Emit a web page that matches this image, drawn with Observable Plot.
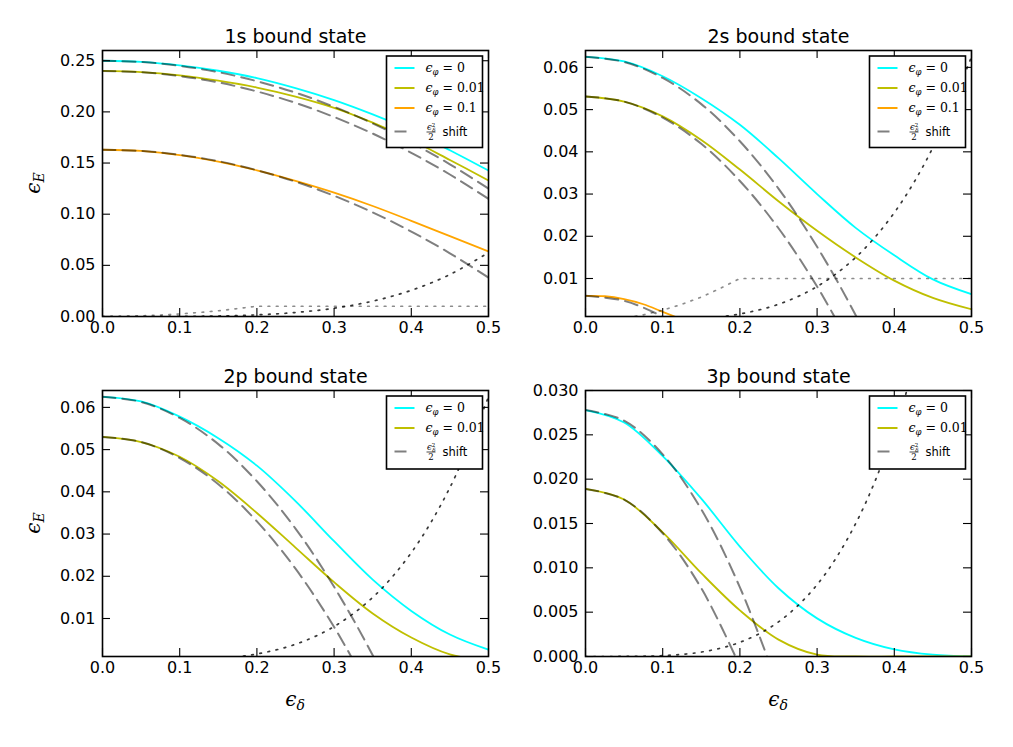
<!DOCTYPE html>
<html><head><meta charset="utf-8">
<script src="https://cdn.jsdelivr.net/npm/d3@7"></script>
<script src="https://cdn.jsdelivr.net/npm/@observablehq/plot@0.6"></script>
<style>
body{margin:0;background:#fff;}
#fig{position:relative;width:1013px;height:747px;background:#fff;overflow:hidden;}
#fig svg{position:absolute;}
</style></head><body><div id="fig"></div>
<script>
// ---------- data ----------
const deltaGrid = [0, 0.05, 0.10, 0.15, 0.20, 0.25, 0.30, 0.35, 0.40, 0.45, 0.50];
const deltaOrange2s = [0, 0.025, 0.05, 0.075, 0.10, 0.125, 0.15];
const deltaLight = [0, 0.025, 0.05, 0.075, 0.10, 0.125, 0.15, 0.175, 0.20, 0.50];

const xTicks = [0, 0.1, 0.2, 0.3, 0.4, 0.5];
const yTicks1s = [0, 0.05, 0.10, 0.15, 0.20, 0.25];
const yTicks2s = [0.01, 0.02, 0.03, 0.04, 0.05, 0.06];
const yTicks2p = [0.01, 0.02, 0.03, 0.04, 0.05, 0.06];
const yTicks3p = [0, 0.005, 0.010, 0.015, 0.020, 0.025, 0.030];

const titles = ["1s bound state", "2s bound state", "2p bound state", "3p bound state"];
const seriesColors = ["#00ffff", "#bfbf00", "#ffa500"];
const legendLabels = ["0", "0.01", "0.1"];

// 1s
const e1s_phi0   = [0.2500, 0.2489, 0.2455, 0.2402, 0.2330, 0.2232, 0.2115, 0.1975, 0.1815, 0.1625, 0.1426];
const e1s_phi001 = [0.2400, 0.2389, 0.2357, 0.2305, 0.2238, 0.2150, 0.2040, 0.1895, 0.1725, 0.1530, 0.1330];
const e1s_phi01  = [0.1630, 0.1618, 0.1578, 0.1513, 0.1428, 0.1325, 0.1210, 0.1080, 0.0935, 0.0785, 0.0635];
const shift1s_phi0   = [0.2500, 0.2488, 0.2450, 0.2388, 0.2300, 0.2188, 0.2050, 0.1888, 0.1700, 0.1488, 0.1250];
const shift1s_phi001 = [0.2400, 0.2388, 0.2350, 0.2288, 0.2200, 0.2088, 0.1950, 0.1788, 0.1600, 0.1388, 0.1150];
const shift1s_phi01  = [0.1630, 0.1618, 0.1580, 0.1518, 0.1430, 0.1318, 0.1180, 0.1018, 0.0830, 0.0618, 0.0380];

// 2s
const e2s_phi0   = [0.0625, 0.0614, 0.0579, 0.0527, 0.0464, 0.0385, 0.0300, 0.0220, 0.0155, 0.0098, 0.0063];
const e2s_phi001 = [0.0531, 0.0519, 0.0484, 0.0428, 0.0358, 0.0283, 0.0213, 0.0150, 0.0095, 0.0054, 0.0027];
const e2s_phi01  = [0.0059, 0.0058, 0.0051, 0.0039, 0.0021, 0.0003, -0.0015];
const shift2s_phi0   = [0.0625, 0.0613, 0.0575, 0.0513, 0.0425, 0.0313, 0.0175, 0.0013, -0.0175];
const shift2s_phi001 = [0.0531, 0.0519, 0.0481, 0.0419, 0.0331, 0.0219, 0.0081, -0.0082];
const shift2s_phi01  = [0.0059, 0.0047, 0.0009, -0.0054];

// 2p
const e2p_phi0   = [0.0625, 0.0614, 0.0578, 0.0527, 0.0462, 0.0378, 0.0283, 0.0192, 0.0118, 0.0062, 0.0026];
const e2p_phi001 = [0.0530, 0.0518, 0.0483, 0.0425, 0.0350, 0.0268, 0.0186, 0.0112, 0.0055, 0.0015, 0.0000];
const shift2p_phi0   = [0.0625, 0.0613, 0.0575, 0.0513, 0.0425, 0.0313, 0.0175, 0.0013, -0.0175];
const shift2p_phi001 = [0.0530, 0.0518, 0.0480, 0.0418, 0.0330, 0.0218, 0.0080, -0.0083];

// 3p
const e3p_phi0   = [0.0278, 0.0264, 0.0226, 0.0178, 0.0124, 0.0077, 0.0043, 0.0021, 0.0008, 0.0002, 0.0000];
const e3p_phi001 = [0.0189, 0.0177, 0.0140, 0.0094, 0.0052, 0.0019, 0.0002, 0.0000, 0.0000, 0.0000, 0.0000];
const shift3p_phi0   = [0.0278, 0.0266, 0.0228, 0.0166, 0.0078, -0.0035];
const shift3p_phi001 = [0.0189, 0.0177, 0.0139, 0.0077, -0.0011];

// dotted reference curves
const darkDots  = [0, 0.00001, 0.0001, 0.0005, 0.0016, 0.0039, 0.0081, 0.0150, 0.0256, 0.0410, 0.0625];
const lightDots = [0, 0.0002, 0.0006, 0.0014, 0.0025, 0.0039, 0.0056, 0.0077, 0.0100, 0.0100];

// ---------- helpers ----------
const rows = (xs, ys) => ys.map((y, i) => ({x: xs[i], y}));

function addLegend(svg, frameRight, frameTop, nSeries) {
  const w = 96, n = nSeries + 1;
  const h = n === 4 ? 91.5 : 73;
  const x0 = frameRight - 5.5 - w, y0 = frameTop + 6;
  const g = svg.append("g").attr("text-anchor", "start");
  g.append("rect").attr("x", x0).attr("y", y0).attr("width", w).attr("height", h)
    .attr("fill", "white").attr("stroke", "black").attr("stroke-width", 1.6);
  for (let i = 0; i < nSeries; i++) {
    const cy = y0 + 12 + i * 20;
    g.append("line").attr("x1", x0 + 8).attr("x2", x0 + 28).attr("y1", cy).attr("y2", cy)
      .attr("stroke", seriesColors[i]).attr("stroke-width", 2);
    const t = g.append("text").attr("x", x0 + 39).attr("y", cy + 4).attr("text-anchor", "start")
      .attr("font-family", "DejaVu Serif").attr("font-size", 12.5);
    t.append("tspan").attr("font-style", "italic").text("ϵ");
    t.append("tspan").attr("font-style", "italic").attr("font-size", 8.5).attr("dy", 3).text("φ");
    t.append("tspan").attr("dy", -3).text(" = " + legendLabels[i]);
  }
  const cy = y0 + 12 + nSeries * 20 + 3.5;
  g.append("line").attr("x1", x0 + 8).attr("x2", x0 + 20).attr("y1", cy).attr("y2", cy)
    .attr("stroke", "black").attr("stroke-opacity", 0.5).attr("stroke-width", 2);
  const num = g.append("text").attr("x", x0 + 40.5).attr("y", cy - 2).attr("text-anchor", "start")
    .attr("font-family", "DejaVu Serif").attr("font-size", 8.5);
  num.append("tspan").attr("font-style", "italic").text("ϵ");
  num.append("tspan").attr("font-size", 5.5).attr("dy", -3).text("2");
  num.append("tspan").attr("font-size", 5.5).attr("font-style", "italic").attr("dx", -3).attr("dy", 5.5).text("δ");
  g.append("line").attr("x1", x0 + 40).attr("x2", x0 + 49).attr("y1", cy + 0.5).attr("y2", cy + 0.5)
    .attr("stroke", "black").attr("stroke-width", 0.7);
  g.append("text").attr("x", x0 + 44.5).attr("y", cy + 8.5).attr("text-anchor", "middle")
    .attr("font-family", "DejaVu Serif").attr("font-size", 8.5).text("2");
  g.append("text").attr("x", x0 + 56).attr("y", cy + 4).attr("text-anchor", "start")
    .attr("font-family", "DejaVu Sans").attr("font-size", 11.5).text("shift");
}

function panel(cfg) {
  const fw = cfg.width - cfg.ml - cfg.mr;
  const fh = cfg.height - cfg.mt - cfg.mb;
  const marks = [];
  cfg.solid.forEach((s, i) => marks.push(
    Plot.line(rows(s.xs || deltaGrid, s.ys), {x: "x", y: "y", stroke: seriesColors[i], strokeWidth: 1.8, curve: "catmull-rom", clip: true})));
  cfg.shift.forEach(ys => marks.push(
    Plot.line(rows(deltaGrid, ys), {x: "x", y: "y", stroke: "black", strokeOpacity: 0.5, strokeWidth: 2, strokeDasharray: "13,7", curve: "catmull-rom", clip: true})));
  if (cfg.light) marks.push(
    Plot.line(rows(deltaLight, lightDots), {x: "x", y: "y", stroke: "black", strokeOpacity: 0.45, strokeWidth: 1.7, strokeDasharray: "1.7,6.6", curve: "linear", clip: true}));
  marks.push(
    Plot.line(rows(deltaGrid, darkDots), {x: "x", y: "y", stroke: "black", strokeOpacity: 0.78, strokeWidth: 1.7, strokeDasharray: "1.7,6.6", curve: "catmull-rom", clip: true}));
  marks.push(
    Plot.frame({stroke: "black", strokeWidth: 1.6}),
    Plot.tickX(xTicks, {x: d => d, stroke: "black", strokeWidth: 1.1, insetTop: fh - 8}),
    Plot.tickX(xTicks, {x: d => d, stroke: "black", strokeWidth: 1.1, insetBottom: fh - 8}),
    Plot.tickY(cfg.yTicks, {y: d => d, stroke: "black", strokeWidth: 1.1, insetRight: fw - 8}),
    Plot.tickY(cfg.yTicks, {y: d => d, stroke: "black", strokeWidth: 1.1, insetLeft: fw - 8}),
    Plot.axisX({ticks: xTicks, tickFormat: d3.format(".1f"), tickSize: 0, tickPadding: 5, label: null, fontSize: 16}),
    Plot.axisY({ticks: cfg.yTicks, tickFormat: d3.format(cfg.yFmt), tickSize: 0, tickPadding: 7, label: null, fontSize: 16}),
    Plot.text([cfg.title], {text: d => d, frameAnchor: "top", dy: -8, lineAnchor: "bottom", fontSize: 19})
  );
  const svgEl = Plot.plot({
    width: cfg.width, height: cfg.height,
    marginLeft: cfg.ml, marginRight: cfg.mr, marginTop: cfg.mt, marginBottom: cfg.mb,
    x: {domain: [0, 0.5]},
    y: {domain: cfg.yDomain},
    style: {fontFamily: "DejaVu Sans", fontSize: "16px", background: "transparent", color: "black"},
    marks
  });
  svgEl.style.left = cfg.left + "px";
  svgEl.style.top = cfg.top + "px";
  document.getElementById("fig").appendChild(svgEl);
  const svg = d3.select(svgEl);
  addLegend(svg, cfg.width - cfg.mr, cfg.mt, cfg.solid.length);
  if (cfg.yLabel) {
    const t = svg.append("text").attr("transform", `translate(40,${cfg.mt + fh / 2}) rotate(-90)`)
      .attr("text-anchor", "middle").attr("font-family", "DejaVu Serif").attr("font-size", 20);
    t.append("tspan").attr("font-style", "italic").text("ϵ");
    t.append("tspan").attr("font-style", "italic").attr("font-size", 14).attr("dy", 4).text("E");
  }
  if (cfg.xLabel) {
    const t = svg.append("text").attr("x", cfg.ml + fw / 2).attr("y", cfg.mt + fh + 50)
      .attr("text-anchor", "middle").attr("font-family", "DejaVu Serif").attr("font-size", 20);
    t.append("tspan").attr("font-style", "italic").text("ϵ");
    t.append("tspan").attr("font-style", "italic").attr("font-size", 14).attr("dy", 4).text("δ");
  }
}

panel({left: 0, top: 0, width: 506, height: 360, ml: 102, mr: 18, mt: 50, mb: 44,
  yDomain: [0, 0.26], yTicks: yTicks1s, yFmt: ".2f", title: titles[0], yLabel: true,
  solid: [{ys: e1s_phi0}, {ys: e1s_phi001}, {ys: e1s_phi01}],
  shift: [shift1s_phi0, shift1s_phi001, shift1s_phi01], light: true});

panel({left: 506, top: 0, width: 507, height: 360, ml: 79, mr: 42, mt: 50, mb: 44,
  yDomain: [0.001, 0.064], yTicks: yTicks2s, yFmt: ".2f", title: titles[1],
  solid: [{ys: e2s_phi0}, {ys: e2s_phi001}, {xs: deltaOrange2s, ys: e2s_phi01}],
  shift: [shift2s_phi0, shift2s_phi001, shift2s_phi01], light: true});

panel({left: 0, top: 360, width: 506, height: 387, ml: 102, mr: 18, mt: 30, mb: 91,
  yDomain: [0.001, 0.064], yTicks: yTicks2p, yFmt: ".2f", title: titles[2], yLabel: true, xLabel: true,
  solid: [{ys: e2p_phi0}, {ys: e2p_phi001}],
  shift: [shift2p_phi0, shift2p_phi001], light: false});

panel({left: 506, top: 360, width: 507, height: 387, ml: 79, mr: 42, mt: 30, mb: 91,
  yDomain: [0, 0.030], yTicks: yTicks3p, yFmt: ".3f", title: titles[3], xLabel: true,
  solid: [{ys: e3p_phi0}, {ys: e3p_phi001}],
  shift: [shift3p_phi0, shift3p_phi001], light: false});
</script>
</body></html>
